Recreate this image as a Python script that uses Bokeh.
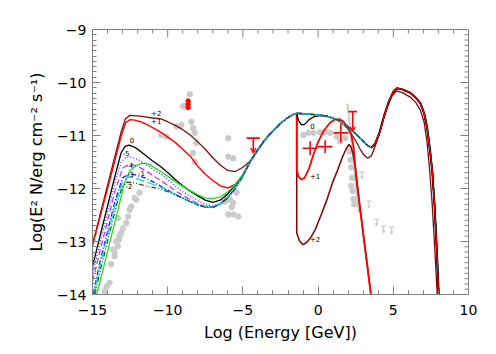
import math
from bokeh.plotting import figure
from bokeh.models import (Range1d, SingleIntervalTicker, ColumnDataSource, Arrow, OpenHead)
from bokeh.embed import file_html
from bokeh.resources import INLINE
from bokeh.core.properties import value

# ---------------- data ----------------
# common inverse-Compton rise shared by all models
IC_X = [-5.0, -4.5, -4.0, -3.5, -3.0, -2.5, -2.0, -1.7, -1.42]
IC_Y = [-11.74, -11.48, -11.26, -11.07, -10.91, -10.77, -10.66, -10.61, -10.58]

# common high-energy branch
HE_X = [-1.42, -1.0, -0.5, 0.0, 0.5, 1.0, 1.5, 2.0, 2.5, 3.0, 3.3, 3.55, 3.8, 4.1, 4.4,
        4.7, 5.0, 5.25, 5.6, 6.1, 6.5, 6.8, 7.05, 7.25, 7.45, 7.6, 7.75, 7.9, 8.02]
HE_Y = [-10.58, -10.59, -10.60, -10.61, -10.63, -10.67, -10.74, -10.84, -10.97, -11.11,
        -11.19, -11.23, -11.15, -10.93, -10.62, -10.36, -10.18, -10.11, -10.13, -10.19,
        -10.29, -10.39, -10.58, -10.85, -11.3, -11.7, -12.35, -13.2, -14.0]

# lower high-energy branch of model +2
LO_X = [1.5, 2.0, 2.5, 2.8, 3.05, 3.3, 3.55, 3.8, 4.05, 4.3, 4.6, 4.9, 5.2, 5.6, 6.1,
        6.5, 6.8, 7.05, 7.25, 7.4, 7.58, 7.75, 7.92]
LO_Y = [-10.74, -10.88, -11.10, -11.26, -11.37, -11.43, -11.38, -11.2, -10.98, -10.73,
        -10.46, -10.26, -10.16, -10.19, -10.27, -10.38, -10.52, -10.75, -11.14, -11.6,
        -12.27, -13.1, -14.0]

# model +1 high-energy dip
P1_X = [-1.42, -1.42, -1.3, -1.1, -0.9, -0.6, -0.3, 0.0, 0.4, 0.8, 1.1, 1.4, 1.7, 2.0,
        2.2, 2.35, 2.45, 2.55, 2.78, 3.02, 3.27, 3.51]
P1_Y = [-10.58, -11.65, -11.78, -11.83, -11.80, -11.62, -11.35, -11.12, -10.90, -10.76,
        -10.70, -10.69, -10.74, -10.85, -10.98, -11.2, -11.5, -11.83, -12.35, -12.9,
        -13.45, -14.0]

# model +2 high-energy dip
P2_X = [-1.42, -1.42, -1.25, -1.02, -0.8, -0.5, -0.2, 0.2, 0.6, 1.0, 1.3, 1.6, 1.85,
        2.05, 2.2, 2.35, 2.48, 2.58, 2.78, 3.02, 3.27, 3.51]
P2_Y = [-10.58, -12.84, -12.98, -13.06, -13.03, -12.93, -12.78, -12.50, -12.2, -11.86,
        -11.65, -11.42, -11.26, -11.17, -11.22, -11.38, -11.62, -11.85, -12.35, -12.9,
        -13.45, -14.0]

# model 0 small dip
Z_X = [-1.42, -1.3, -1.1, -0.9, -0.6, -0.3, 0.0, 0.4]
Z_Y = [-10.58, -10.72, -10.80, -10.79, -10.70, -10.65, -10.63, -10.63]

# low-energy (synchrotron) parts
S2_X = [-15.0, -14.5, -14.0, -13.5, -13.1, -12.8, -12.5, -12.0, -11.5, -11.0, -10.5,
        -10.0, -9.5, -9.0, -8.5, -8.0, -7.5, -7.0, -6.5, -6.0, -5.5, -5.0, -4.5, -4.0]
S2_Y = [-13.06, -12.50, -11.94, -11.38, -10.94, -10.68, -10.62, -10.63, -10.65, -10.67,
        -10.68, -10.74, -10.81, -10.89, -10.99, -11.12, -11.26, -11.42, -11.56, -11.66,
        -11.68, -11.60, -11.48, -11.28]

S1_X = [-15.0, -14.5, -14.0, -13.5, -13.1, -12.8, -12.5, -12.2, -11.8, -11.4, -11.0,
        -10.5, -10.0, -9.5, -9.0, -8.5, -8.0, -7.5, -7.0, -6.5, -6.0, -5.5, -5.0, -4.5]
S1_Y = [-13.08, -12.54, -12.0, -11.46, -11.02, -10.76, -10.70, -10.71, -10.74, -10.79,
        -10.85, -10.93, -11.03, -11.13, -11.26, -11.39, -11.58, -11.73, -11.85, -11.95,
        -11.99, -11.92, -11.76, -11.5]

S0_X = [-15.0, -14.5, -14.0, -13.5, -13.1, -12.85, -12.6, -12.2, -11.8, -11.4, -11.0,
        -10.5, -10.0, -9.5, -9.0, -8.5, -8.0, -7.5, -7.0, -6.5, -6.0, -5.5, -5.0]
S0_Y = [-13.47, -12.90, -12.33, -11.76, -11.33, -11.21, -11.18, -11.22, -11.30, -11.39,
        -11.48, -11.58, -11.70, -11.83, -11.95, -12.05, -12.14, -12.22, -12.26, -12.22,
        -12.10, -11.93, -11.74]

SG_X = [-14.72, -14.3, -13.8, -13.3, -12.9, -12.5, -12.1, -11.8, -11.55, -11.2, -10.8,
        -10.5, -10.0, -9.5, -9.0, -8.5, -8.0, -7.5, -7.0, -6.5, -6.0, -5.5, -5.0]
SG_Y = [-14.0, -13.53, -12.96, -12.40, -11.92, -11.66, -11.57, -11.53, -11.52, -11.55,
        -11.62, -11.67, -11.77, -11.87, -11.96, -12.04, -12.12, -12.18, -12.19, -12.16,
        -12.06, -11.92, -11.74]

SM5_X = [-15.0, -14.5, -14.0, -13.5, -13.1, -12.8, -12.5, -12.0, -11.5, -11.0, -10.5,
         -10.0, -9.5, -9.0, -8.5, -8.0, -7.5, -7.0, -6.5, -6.0, -5.5, -5.0]
SM5_Y = [-13.6, -13.03, -12.46, -11.89, -11.50, -11.42, -11.40, -11.45, -11.54, -11.63,
         -11.72, -11.83, -11.95, -12.06, -12.15, -12.23, -12.30, -12.33, -12.28, -12.16,
         -11.98, -11.76]

SM4_X = [-15.0, -14.5, -14.0, -13.5, -13.0, -12.7, -12.4, -12.0, -11.5, -11.0, -10.5,
         -10.0, -9.5, -9.0, -8.5, -8.0, -7.5, -7.0, -6.5, -6.0, -5.5, -5.0]
SM4_Y = [-13.75, -13.18, -12.61, -12.04, -11.62, -11.56, -11.55, -11.58, -11.66, -11.75,
         -11.84, -11.94, -12.04, -12.13, -12.21, -12.28, -12.34, -12.35, -12.29, -12.17,
         -11.99, -11.76]

SM3_X = [-14.95, -14.5, -14.0, -13.5, -13.0, -12.6, -12.2, -11.5, -11.0, -10.5, -10.0,
         -9.5, -9.0, -8.5, -8.0, -7.5, -7.0, -6.5, -6.0, -5.5, -5.0]
SM3_Y = [-14.0, -13.38, -12.81, -12.24, -11.80, -11.73, -11.74, -11.80, -11.87, -11.95,
         -12.03, -12.11, -12.18, -12.25, -12.31, -12.35, -12.35, -12.29, -12.17, -11.99,
         -11.76]

SM1_X = [-14.9, -14.5, -14.0, -13.5, -13.0, -12.6, -12.2, -11.6, -11.0, -10.5, -10.0,
         -9.5, -9.0, -8.5, -8.0, -7.5, -7.0, -6.5, -6.0, -5.5, -5.0]
SM1_Y = [-14.0, -13.45, -12.88, -12.31, -11.86, -11.78, -11.80, -11.86, -11.92, -11.97,
         -12.04, -12.11, -12.18, -12.24, -12.30, -12.34, -12.35, -12.29, -12.17, -11.99,
         -11.76]

SM2_X = [-14.85, -14.4, -13.9, -13.4, -13.0, -12.7, -12.3, -11.5, -11.0, -10.5, -10.0,
         -9.5, -9.0, -8.5, -8.0, -7.5, -7.0, -6.5, -6.0, -5.5, -5.0]
SM2_Y = [-14.0, -13.45, -12.88, -12.31, -11.95, -11.88, -11.89, -11.95, -11.98, -12.01,
         -12.06, -12.12, -12.19, -12.25, -12.31, -12.35, -12.36, -12.30, -12.18, -12.0,
         -11.77]

# grey archival data points
GX = [-14.2, -14.05, -13.87, -13.76, -13.64, -13.53, -13.53, -13.42, -13.31, -13.31,
      -13.24, -13.2, -13.09, -12.98, -12.75, -12.64, -12.53, -12.42, -12.2, -12.09, -11.87,
      -10.42, -10.09, -9.42, -9.09, -8.98, -8.87, -8.76, -8.53, -8.42, -8.31, -8.2, -8.09,
      -8.31, -8.2,
      -5.98, -5.98, -5.64, -6.09, -5.87, -5.64, -5.42, -5.98, -5.64, -5.31, -6.2, -5.75,
      -0.98, -0.64, -0.31, 0.13, 0.47, 0.8, 1.24, 1.47, 1.8,
      2.1, 2.15, 2.2, 2.25, 2.2, 2.3, 2.35, 2.4]
GY = [-13.94, -13.85, -13.78, -13.43, -13.15, -13.28, -13.21, -13.0, -13.09, -12.56,
      -12.96, -12.9, -12.84, -12.75, -12.65, -12.53, -12.40, -12.34, -12.18, -12.21, -12.08,
      -10.99, -11.02, -10.83, -10.80, -10.45, -10.45, -10.45, -10.22, -10.74, -10.86,
      -10.95, -11.14, -11.33, -11.5,
      -11.05, -11.40, -11.43, -12.15, -12.21, -12.27, -12.08, -12.49, -12.49, -12.53,
      -12.25, -12.35,
      -10.99, -10.95, -10.95, -10.94, -10.94, -10.95, -11.02, -11.11, -11.05,
      -11.3, -11.46, -11.6, -11.8, -11.95, -12.05, -12.2, -12.3]
# grey spectral band (start, end)
GB_X0, GB_Y0, GB_X1, GB_Y1 = [1.95], [-10.4], [2.7], [-12.45]
# grey upper limits
GUL_X = [2.91, 3.38, 3.89, 4.36, 4.89]
GUL_Y = [-11.69, -12.24, -12.58, -12.71, -12.73]

# red points
RDOT_X = [-8.64, -8.64, -8.64]
RDOT_Y = [-10.35, -10.41, -10.47]
RX = [-0.53, 0.47, 1.51]
RY = [-11.24, -11.21, -10.95]
RXE = [0.5, 0.48, 0.5]
RYE = [0.13, 0.12, 0.18]
RUL_X = [-4.31, 2.3]
RUL_Y = [-11.05, -10.55]
RUL_W = [0.44, 0.28]
RUL_L = [0.28, 0.38]

# curve labels
LBL_X = [-10.76, -10.76, -12.37, -12.77, -12.53, -12.49, -11.75, -12.58, -0.38, -0.2, -0.2]
LBL_Y = [-10.58, -10.73, -11.09, -11.33, -11.55, -11.72, -11.71, -11.95, -10.82, -11.76, -12.95]
LBL_T = ["+2", "+1", "0", "-5", "-4", "-3", "-1", "-2", "0", "+1", "+2"]

X_TICKS = [-15, -10, -5, 0, 5, 10]
Y_TICKS = [-14, -13, -12, -11, -10, -9]
X_MINOR_STEP = 1.0
Y_MINOR_STEP = 0.1


def after(xs, ys, x0):
    return ([x for x in xs if x > x0], [y for x, y in zip(xs, ys) if x > x0])


def upto(xs, ys, x1):
    return ([x for x in xs if x <= x1], [y for x, y in zip(xs, ys) if x <= x1])


def cat(*parts):
    xs, ys = [], []
    for a, b in parts:
        xs += list(a)
        ys += list(b)
    return xs, ys


def minors(majors, step):
    out = []
    lo, hi = min(majors), max(majors)
    n = int(round((hi - lo) / step))
    for i in range(n + 1):
        v = round(lo + i * step, 6)
        if all(abs(v - m) > 1e-6 for m in majors):
            out.append(v)
    return out


# ---------------- figure ----------------
XMIN, XMAX = X_TICKS[0], X_TICKS[-1]
YMIN, YMAX = Y_TICKS[0], Y_TICKS[-1]
p = figure(width=488, height=346, x_range=Range1d(XMIN, XMAX), y_range=Range1d(YMIN, YMAX),
           output_backend="svg", toolbar_location=None,
           min_border_left=92, min_border_right=20, min_border_top=29, min_border_bottom=52)
p.xgrid.visible = False
p.ygrid.visible = False
AXC = "#808080"
p.outline_line_color = AXC
p.background_fill_color = "white"
p.border_fill_color = "white"

FONT = "DejaVu Sans"


def style_axis(ax, interval, nminor, overrides):
    ax.ticker = SingleIntervalTicker(interval=interval, num_minor_ticks=nminor)
    ax.major_tick_in = 8
    ax.major_tick_out = 0
    ax.minor_tick_in = 4
    ax.minor_tick_out = 0
    ax.axis_line_color = AXC
    ax.major_tick_line_color = AXC
    ax.minor_tick_line_color = AXC
    ax.major_label_text_font = FONT
    ax.major_label_text_font_size = "14px"
    ax.major_label_text_color = "black"
    ax.axis_label_text_font = FONT
    ax.axis_label_text_font_size = "16px"
    ax.axis_label_text_font_style = "normal"
    ax.axis_label_text_color = "black"
    ax.major_label_overrides = overrides


xo = {t: ("\u2212" + str(-t)) if t < 0 else str(t) for t in X_TICKS}
yo = {t: ("\u2212" + str(-t)) if t < 0 else str(t) for t in Y_TICKS}

style_axis(p.xaxis[0], 5, 5, xo)
style_axis(p.yaxis[0], 1, 10, yo)
p.xaxis[0].axis_label = "Log (Energy [GeV])"
p.yaxis[0].axis_label = "Log(E\u00b2 N/erg cm\u207b\u00b2 s\u207b\u00b9)"
p.xaxis[0].major_label_standoff = 10
p.xaxis[0].axis_label_standoff = 5
p.yaxis[0].major_label_standoff = 6
p.yaxis[0].axis_label_standoff = 8

# mirrored inward ticks on the top and right edges
xm = minors(X_TICKS, X_MINOR_STEP)
ym = minors(Y_TICKS, Y_MINOR_STEP)
p.ray(X_TICKS, [YMAX] * len(X_TICKS), length=8, length_units="screen",
      angle=-math.pi / 2, line_color=AXC, line_width=1)
p.ray(xm, [YMAX] * len(xm), length=4, length_units="screen",
      angle=-math.pi / 2, line_color=AXC, line_width=1)
p.ray([XMAX] * len(Y_TICKS), Y_TICKS, length=8, length_units="screen",
      angle=math.pi, line_color=AXC, line_width=1)
p.ray([XMAX] * len(ym), ym, length=4, length_units="screen",
      angle=math.pi, line_color=AXC, line_width=1)

# ---------------- grey data ----------------
GREY = "#cbcbcb"
p.segment(GB_X0, GB_Y0, GB_X1, GB_Y1, line_color=GREY, line_width=2)
p.scatter(GX, GY, size=5.5, color=GREY, line_color=GREY)
gsrc = ColumnDataSource(dict(
    x=GUL_X, y=GUL_Y,
    x0=[x - 0.18 for x in GUL_X], x1=[x + 0.18 for x in GUL_X],
    yb=[y - 0.13 for y in GUL_Y]))
p.segment("x0", "y", "x1", "y", source=gsrc, line_color=GREY, line_width=1.2)
p.add_layout(Arrow(end=OpenHead(size=3, line_color=GREY, line_width=1), source=gsrc,
                   x_start="x", y_start="y", x_end="x", y_end="yb",
                   line_color=GREY, line_width=1.2))

# ---------------- model curves ----------------
DKRED = "#7d0e0e"
LW = 1.3

# +2 model
x, y = cat((S2_X, S2_Y), after(IC_X, IC_Y, S2_X[-1]))
p.line(x, y, line_color=DKRED, line_width=LW)
p.line(P2_X, P2_Y, line_color=DKRED, line_width=1.6)
x, y = cat(upto(HE_X, HE_Y, 1.0), (LO_X, LO_Y))
p.line(x, y, line_color=DKRED, line_width=LW)

# +1 model
x, y = cat((S1_X, S1_Y), after(IC_X, IC_Y, S1_X[-1]))
p.line(x, y, line_color="red", line_width=1.4)
p.line(P1_X, P1_Y, line_color="red", line_width=1.8)

# 0 model (black)
x, y = cat((S0_X, S0_Y), after(IC_X, IC_Y, S0_X[-1]), (Z_X[1:], Z_Y[1:]),
           after(HE_X, HE_Y, Z_X[-1]))
p.line(x, y, line_color="black", line_width=LW)

bundle = [
    (SG_X, SG_Y, "#22dd22", "solid"),
    (SM5_X, SM5_Y, "#2233ff", "1 2"),
    (SM4_X, SM4_Y, "#cc33ff", "6 3"),
    (SM3_X, SM3_Y, "#1122ee", "5 2 1 2"),
    (SM1_X, SM1_Y, "#00dde8", "9 3"),
    (SM2_X, SM2_Y, "#1d5a1d", "5 2 1 2 1 2"),
]
for sx, sy, col, dash in bundle:
    x, y = cat((sx, sy), after(IC_X, IC_Y, sx[-1]), (HE_X[1:], HE_Y[1:]))
    p.line(x, y, line_color=col, line_width=LW, line_dash=dash)

# top of the hadronic bump: black then red
x, y = after(HE_X, HE_Y, 3.3)
p.line(x, y, line_color="black", line_width=2.0)
p.line(x, y, line_color="red", line_width=1.2)

# ---------------- red data ----------------
p.scatter(RDOT_X, RDOT_Y, size=4.5, color="red")
rsrc = ColumnDataSource(dict(
    x=RX, y=RY,
    xl=[a - b for a, b in zip(RX, RXE)], xh=[a + b for a, b in zip(RX, RXE)],
    yl=[a - b for a, b in zip(RY, RYE)], yh=[a + b for a, b in zip(RY, RYE)]))
p.segment("xl", "y", "xh", "y", source=rsrc, line_color="red", line_width=1.6)
p.segment("x", "yl", "x", "yh", source=rsrc, line_color="red", line_width=1.6)
usrc = ColumnDataSource(dict(
    x=RUL_X, y=RUL_Y,
    x0=[a - w for a, w in zip(RUL_X, RUL_W)], x1=[a + w for a, w in zip(RUL_X, RUL_W)],
    yb=[a - l for a, l in zip(RUL_Y, RUL_L)]))
p.segment("x0", "y", "x1", "y", source=usrc, line_color="red", line_width=1.6)
p.add_layout(Arrow(end=OpenHead(size=5, line_color="red", line_width=1.4), source=usrc,
                   x_start="x", y_start="y", x_end="x", y_end="yb",
                   line_color="red", line_width=1.6))

# ---------------- labels ----------------
p.text(LBL_X, LBL_Y, text=LBL_T, text_font=value(FONT), text_font_size="7px",
       text_align="center", text_baseline="middle", text_color="black")

open("out.html", "w").write(file_html(p, INLINE))
